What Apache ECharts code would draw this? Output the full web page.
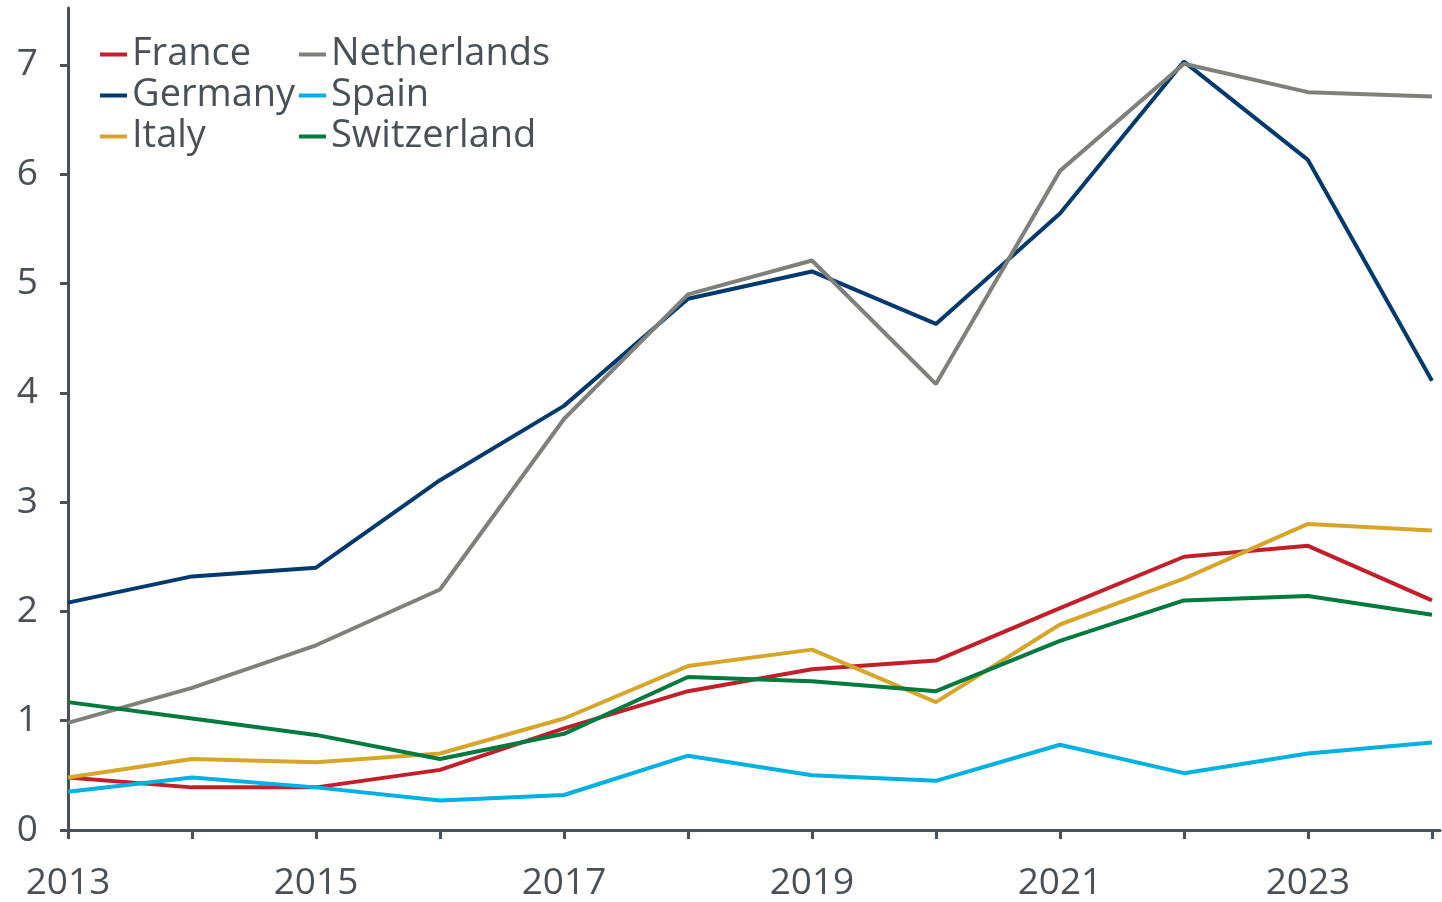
<!DOCTYPE html>
<html>
<head>
<meta charset="utf-8">
<script src="https://cdn.jsdelivr.net/npm/echarts@6/dist/echarts.min.js"></script>
<style>
  html, body { margin: 0; padding: 0; background: #fff; }
  #chart { width: 1442px; height: 902px; }
</style>
</head>
<body>
<div id="chart"></div>
<script>
const years = [2013, 2014, 2015, 2016, 2017, 2018, 2019, 2020, 2021, 2022, 2023, 2024];
const xLabelYears = [2013, 2015, 2017, 2019, 2021, 2023];
const yTicks = [0, 1, 2, 3, 4, 5, 6, 7];

const france      = [0.48, 0.39, 0.39, 0.55, 0.93, 1.27, 1.47, 1.55, 2.03, 2.50, 2.60, 2.10];
const germany     = [2.08, 2.32, 2.40, 3.20, 3.88, 4.86, 5.11, 4.63, 5.64, 7.03, 6.13, 4.11];
const italy       = [0.48, 0.65, 0.62, 0.70, 1.02, 1.50, 1.65, 1.17, 1.88, 2.30, 2.80, 2.74];
const netherlands = [0.98, 1.30, 1.69, 2.20, 3.76, 4.90, 5.21, 4.08, 6.03, 7.01, 6.75, 6.71];
const spain       = [0.35, 0.48, 0.39, 0.27, 0.32, 0.68, 0.50, 0.45, 0.78, 0.52, 0.70, 0.80];
const switzerland = [1.17, 1.02, 0.87, 0.65, 0.88, 1.40, 1.36, 1.27, 1.73, 2.10, 2.14, 1.97];

const seriesDefs = [
  { name: 'France', data: france, color: '#c21f2a' },
  { name: 'Germany', data: germany, color: '#003a6f' },
  { name: 'Italy', data: italy, color: '#d7a52a' },
  { name: 'Netherlands', data: netherlands, color: '#7f7f7b' },
  { name: 'Spain', data: spain, color: '#00b1e1' },
  { name: 'Switzerland', data: switzerland, color: '#007a3e' }
];

const axisColor = '#4a5058';
const textColor = '#4a5058';
const fontFamily = '"Open Sans", "Noto Sans", sans-serif';

const chart = echarts.init(document.getElementById('chart'), null, { renderer: 'canvas' });

const legendCommon = {
  orient: 'vertical',
  top: 34,
  itemWidth: 27,
  itemHeight: 4,
  itemGap: 0,
  icon: 'rect',
  textStyle: { color: textColor, fontSize: 38, fontFamily: fontFamily, lineHeight: 41 },
  padding: 0
};

chart.setOption({
  animation: false,
  backgroundColor: '#ffffff',
  grid: { left: 68, right: 2, top: 8, bottom: 72, outerBoundsMode: 'none', containLabel: false },
  legend: [
    Object.assign({}, legendCommon, { left: 100, data: ['France', 'Germany', 'Italy'] }),
    Object.assign({}, legendCommon, { left: 299, data: ['Netherlands', 'Spain', 'Switzerland'] })
  ],
  xAxis: {
    type: 'value',
    min: 2013,
    max: 2024.065,
    interval: 1,
    splitLine: { show: false },
    axisLine: { show: true, lineStyle: { color: axisColor, width: 3 } },
    axisTick: { show: true, inside: false, length: 9, lineStyle: { color: axisColor, width: 3 }, customValues: years },
    axisLabel: {
      color: textColor, fontSize: 37, fontFamily: fontFamily, margin: 35,
      customValues: xLabelYears,
      formatter: v => String(v)
    }
  },
  yAxis: {
    type: 'value',
    min: 0,
    max: 7.52,
    interval: 1,
    splitLine: { show: false },
    axisLine: { show: true, lineStyle: { color: axisColor, width: 3 } },
    axisTick: { show: true, inside: false, length: 8, lineStyle: { color: axisColor, width: 3 }, customValues: yTicks },
    axisLabel: {
      color: textColor, fontSize: 37, fontFamily: fontFamily, margin: 30,
      customValues: yTicks,
      formatter: v => String(v)
    }
  },
  series: seriesDefs.map(s => ({
    name: s.name,
    type: 'line',
    data: years.map((y, i) => [y, s.data[i]]),
    showSymbol: false,
    symbol: 'none',
    lineStyle: { color: s.color, width: 4 },
    itemStyle: { color: s.color },
    z: 2
  }))
});
</script>
</body>
</html>
